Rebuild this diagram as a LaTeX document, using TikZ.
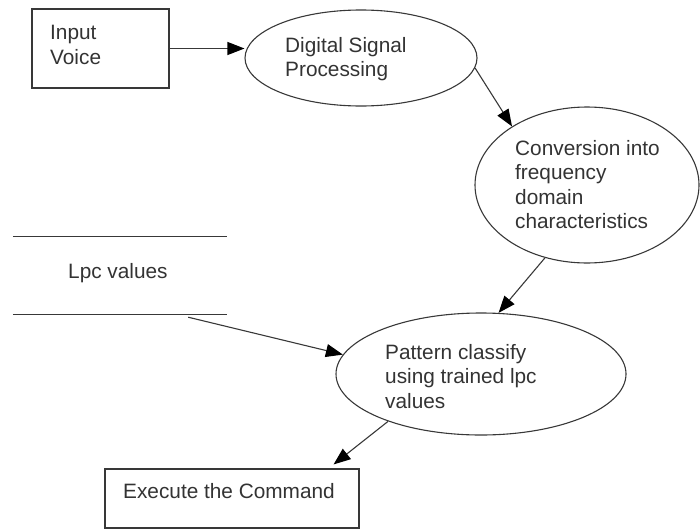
\documentclass[tikz,border=0pt]{standalone}
\usepackage{fontspec}
\setmainfont{Liberation Sans}
\usetikzlibrary{shapes.geometric,arrows.meta}

\tikzset{
  ink/.style={draw=black!78, line width=1.1pt},
  boxnode/.style={ink, rectangle, inner sep=0pt},
  bubble/.style={ink, ellipse, inner sep=0pt},
  storenode/.style={rectangle, inner sep=0pt},
  caption/.style={anchor=north west, inner sep=0pt, align=left, text=black!80,
    font=\fontsize{20.8}{24.5}\selectfont},
  flow/.style={ink, -{Triangle[length=17pt,width=13pt,color=black]}}
}

\begin{document}
\begin{tikzpicture}[x=1pt,y=-1pt]
  \useasboundingbox (0,0) rectangle (700,530);

  % processes and terminals
  \node[boxnode, minimum width=137, minimum height=79] (inp) at (100.5,48.5) {};
  \node[bubble, minimum width=232, minimum height=96] (dsp) at (361,58) {};
  \node[bubble, minimum width=224, minimum height=156] (conv) at (587,185) {};
  \node[bubble, minimum width=290, minimum height=122] (pat) at (481,374) {};
  \node[boxnode, minimum width=254, minimum height=59] (exe) at (232,498.5) {};

  % data store: two parallel lines
  \node[storenode, minimum width=214, minimum height=77] (lpc) at (120,275.5) {};
  \draw[ink] (lpc.north west) -- (lpc.north east);
  \draw[ink] (lpc.south west) -- (lpc.south east);

  % texts
  \node[caption] (tinp) at (50,25) {Input\\Voice};
  \node[caption] (tdsp) at (285,37) {Digital Signal\\Processing};
  \node[caption] (tconv) at (515,140) {Conversion into\\frequency\\domain\\characteristics};
  \node[caption] (tlpc) at (68,263) {Lpc values};
  \node[caption] (tpat) at (385,344) {Pattern classify\\using trained lpc\\values};
  \node[caption] (texe) at (123,483) {Execute the Command};

  % flows
  \draw[flow] (inp.east) -- (inp.east -| dsp.west);
  \draw[flow] (dsp.-5) -- (conv.142);
  \draw[flow] (conv.-120) -- (pat.74);
  \draw[flow] ([xshift=-39pt,yshift=-3pt]lpc.south east) -- (pat.172);
  \draw[flow] (pat.-153) -- ([xshift=-26pt,yshift=4pt]exe.north east);
\end{tikzpicture}
\end{document}
